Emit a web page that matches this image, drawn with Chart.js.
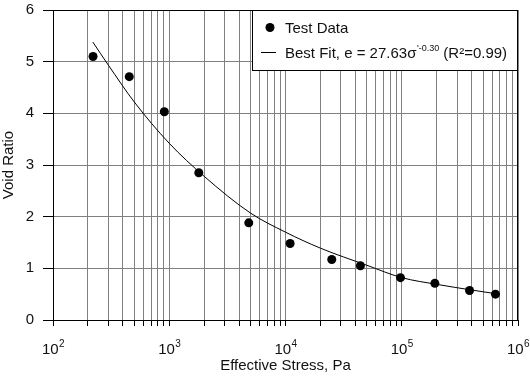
<!DOCTYPE html>
<html>
<head>
<meta charset="utf-8">
<script src="https://cdn.jsdelivr.net/npm/chart.js@4/dist/chart.umd.min.js"></script>
<style>
  html, body { margin: 0; padding: 0; background: #fff; }
  #wrap { width: 530px; height: 377px; }
</style>
</head>
<body>
<div id="wrap"><canvas id="voidChart" width="530" height="377"></canvas></div>
<script>
// measured test points
const stress = [221, 453, 907, 1795, 4830, 10960, 25000, 44100, 97500, 192700, 383000, 640000];
const voidRatio = [5.10, 4.71, 4.03, 2.85, 1.88, 1.48, 1.17, 1.05, 0.82, 0.71, 0.57, 0.50];

// best fit curve
const fitStress = [220, 300, 500, 1000, 2000, 5000, 10000, 20000, 50000, 100000, 200000, 400000, 640000];
const fitRatio = [5.38, 4.93, 4.22, 3.42, 2.78, 2.07, 1.70, 1.39, 1.06, 0.82, 0.69, 0.58, 0.51];

// axis ticks
const xMajor = [100, 1000, 10000, 100000, 1000000];
const xExponents = ['2', '3', '4', '5', '6'];
const yTicks = [0, 1, 2, 3, 4, 5, 6];

const legendTestLabel = 'Test Data';
const legendFitParts = ['Best Fit, e = 27.63σ', '\'-0.30', ' (R²=0.99)'];

const FONT = '"Liberation Sans", Arial, sans-serif';
const TEXT = '#111';
const GRID = '#808080';

const xTickValues = [];
xMajor.forEach((m, i) => {
    xTickValues.push(m);
    if (i < xMajor.length - 1) {
        for (let k = 2; k <= 9; k++) xTickValues.push(m * k);
    }
});

const frameAndLabels = {
    id: 'frameAndLabels',
    afterDraw(chart) {
        const { ctx, chartArea: a, scales } = chart;
        ctx.save();
        // box round the plot
        ctx.strokeStyle = '#000';
        ctx.lineWidth = 1;
        ctx.strokeRect(Math.round(a.left) + 0.5, Math.round(a.top) + 0.5,
            Math.round(a.right - a.left) - 1, Math.round(a.bottom - a.top));

        // x tick labels with superscripts
        ctx.fillStyle = TEXT;
        ctx.textBaseline = 'alphabetic';
        xMajor.forEach((v, i) => {
            const px = scales.x.getPixelForValue(v);
            ctx.font = '15px ' + FONT;
            const w1 = ctx.measureText('10').width;
            ctx.font = '10px ' + FONT;
            const w2 = ctx.measureText(xExponents[i]).width;
            const start = px - (w1 + w2) / 2;
            ctx.font = '15px ' + FONT;
            ctx.textAlign = 'left';
            ctx.fillText('10', start, 354);
            ctx.font = '10px ' + FONT;
            ctx.fillText(xExponents[i], start + w1 + 0.5, 347);
        });

        // legend
        const lx = 252, ly = Math.round(a.top) + 0.5, lw = Math.round(a.right) - 1 - lx, lh = 60;
        ctx.fillStyle = '#fff';
        ctx.fillRect(lx, ly, lw, lh);
        ctx.strokeStyle = '#000';
        ctx.strokeRect(lx + 0.5, ly, lw, lh);

        const ty1 = ly + 17, ty2 = ly + 42;
        ctx.fillStyle = '#000';
        ctx.beginPath();
        ctx.arc(270, ty1, 4.5, 0, Math.PI * 2);
        ctx.fill();
        ctx.beginPath();
        ctx.moveTo(261, ty2);
        ctx.lineTo(276, ty2);
        ctx.stroke();

        ctx.fillStyle = TEXT;
        ctx.textAlign = 'left';
        ctx.font = '15px ' + FONT;
        ctx.fillText(legendTestLabel, 285, ty1 + 5);
        let tx = 285;
        ctx.fillText(legendFitParts[0], tx, ty2 + 5);
        tx += ctx.measureText(legendFitParts[0]).width;
        ctx.font = '9px ' + FONT;
        ctx.fillText(legendFitParts[1], tx + 0.5, ty2 - 2);
        tx += ctx.measureText(legendFitParts[1]).width + 0.5;
        ctx.font = '15px ' + FONT;
        ctx.fillText(legendFitParts[2], tx, ty2 + 5);
        ctx.restore();
    }
};

new Chart(document.getElementById('voidChart'), {
    type: 'scatter',
    data: {
        datasets: [
            {
                label: 'Best Fit',
                data: fitStress.map((s, i) => ({ x: s, y: fitRatio[i] })),
                showLine: true,
                borderColor: '#000',
                borderWidth: 1,
                pointRadius: 0,
                cubicInterpolationMode: 'monotone',
                order: 2
            },
            {
                label: legendTestLabel,
                data: stress.map((s, i) => ({ x: s, y: voidRatio[i] })),
                backgroundColor: '#000',
                borderColor: '#000',
                pointRadius: 4.5,
                pointBorderWidth: 0,
                order: 1
            }
        ]
    },
    options: {
        responsive: false,
        animation: false,
        layout: { padding: { top: 10, right: 12, left: 0, bottom: 0 } },
        plugins: {
            legend: { display: false },
            tooltip: { enabled: false }
        },
        scales: {
            x: {
                type: 'logarithmic',
                min: 100,
                max: 1000000,
                afterBuildTicks: scale => {
                    scale.ticks = xTickValues.map(v => ({ value: v }));
                },
                afterFit: scale => {
                    scale.height = 57;
                    scale.paddingLeft = 0;
                    scale.paddingRight = 0;
                },
                ticks: {
                    autoSkip: false,
                    maxRotation: 0,
                    callback: () => ''
                },
                grid: { color: GRID, tickColor: '#000', tickLength: 6, lineWidth: 1 },
                border: { color: '#000' },
                title: {
                    display: true,
                    text: 'Effective Stress, Pa',
                    color: TEXT,
                    font: { family: FONT, size: 15 },
                    padding: { top: 0, bottom: 2 }
                }
            },
            y: {
                min: 0,
                max: 6,
                afterBuildTicks: scale => {
                    scale.ticks = yTicks.map(v => ({ value: v }));
                },
                afterFit: scale => {
                    scale.width = 53;
                    scale.paddingTop = 0;
                    scale.paddingBottom = 0;
                },
                ticks: {
                    color: TEXT,
                    padding: 9,
                    font: { family: FONT, size: 15 }
                },
                grid: { color: GRID, tickColor: '#000', tickLength: 10, lineWidth: 1 },
                border: { color: '#000' },
                title: {
                    display: true,
                    text: 'Void Ratio',
                    color: TEXT,
                    font: { family: FONT, size: 15 },
                    padding: { top: 0, bottom: 0 }
                }
            }
        }
    },
    plugins: [frameAndLabels]
});
</script>
</body>
</html>
